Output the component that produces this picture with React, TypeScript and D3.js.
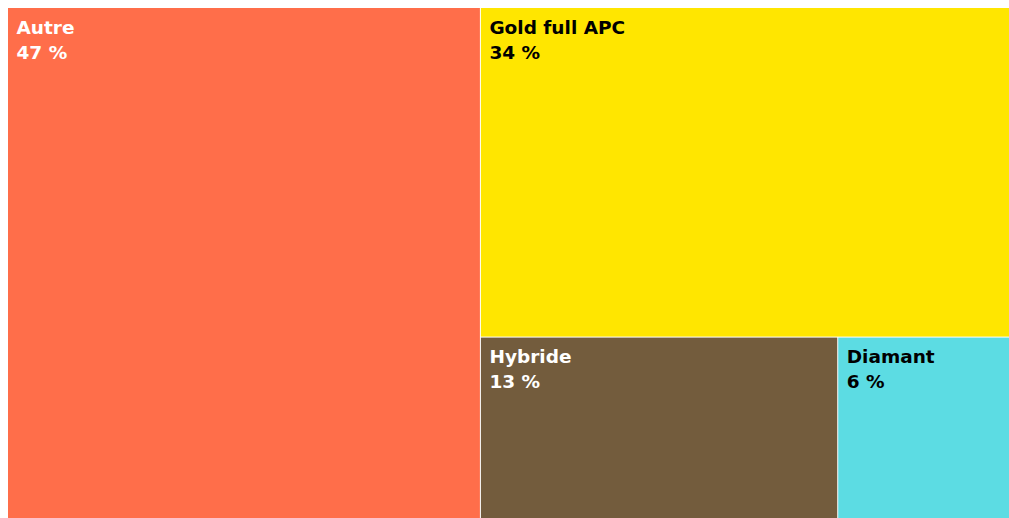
import React from "react";
import * as d3 from "d3";

const categories = ["Autre", "Gold full APC", "Hybride", "Diamant"];
const shares = [46.78, 33.74, 12.9, 6.49];
const colors = ["#FF6E4A", "#FFE600", "#735C3D", "#5CDCE3"];
const textColors = ["#ffffff", "#000000", "#ffffff", "#000000"];

const W = 1009;
const H = 518;

// slice-and-dice tiling: each node takes a strip, direction alternates
function sliceAndDice(parent: any, x0: number, y0: number, x1: number, y1: number) {
  const nodes = parent.children;
  let remaining = parent.value;
  let horizontal = true;
  for (let i = 0; i < nodes.length; i++) {
    const n = nodes[i];
    const frac = remaining ? n.value / remaining : 0;
    if (i === nodes.length - 1) {
      n.x0 = x0; n.y0 = y0; n.x1 = x1; n.y1 = y1;
    } else if (horizontal) {
      const xm = x0 + (x1 - x0) * frac;
      n.x0 = x0; n.y0 = y0; n.x1 = xm; n.y1 = y1;
      x0 = xm;
    } else {
      const ym = y0 + (y1 - y0) * frac;
      n.x0 = x0; n.y0 = y0; n.x1 = x1; n.y1 = ym;
      y0 = ym;
    }
    remaining -= n.value;
    horizontal = !horizontal;
  }
}

export default function App() {
  const data = {
    name: "root",
    children: categories.map((c, i) => ({ name: c, value: shares[i], idx: i })),
  };
  const root = d3.hierarchy<any>(data).sum((d: any) => d.value || 0);
  d3.treemap<any>().size([W, H]).paddingInner(1).tile(sliceAndDice as any)(root);
  const leaves = root.leaves() as any[];

  return (
    <div
      style={{
        position: "fixed",
        left: 8,
        top: 8,
        width: W - 8,
        height: H - 8,
        overflow: "hidden",
      }}
    >
      <svg width={W} height={H} style={{ display: "block" }}>
        {leaves.map((l) => {
          const i = l.data.idx;
          return (
            <g key={l.data.name} transform={`translate(${l.x0},${l.y0})`}>
              <rect width={l.x1 - l.x0} height={l.y1 - l.y0} fill={colors[i]} />
              <text
                x={8.5}
                y={25.5}
                fill={textColors[i]}
                fontFamily="DejaVu Sans, sans-serif"
                fontWeight="bold"
                fontSize={18.5}
              >
                {l.data.name}
              </text>
              <text
                x={8.5}
                y={50.5}
                fill={textColors[i]}
                fontFamily="DejaVu Sans, sans-serif"
                fontWeight="bold"
                fontSize={18.5}
              >
                {`${Math.round(l.data.value)} %`}
              </text>
            </g>
          );
        })}
      </svg>
    </div>
  );
}
